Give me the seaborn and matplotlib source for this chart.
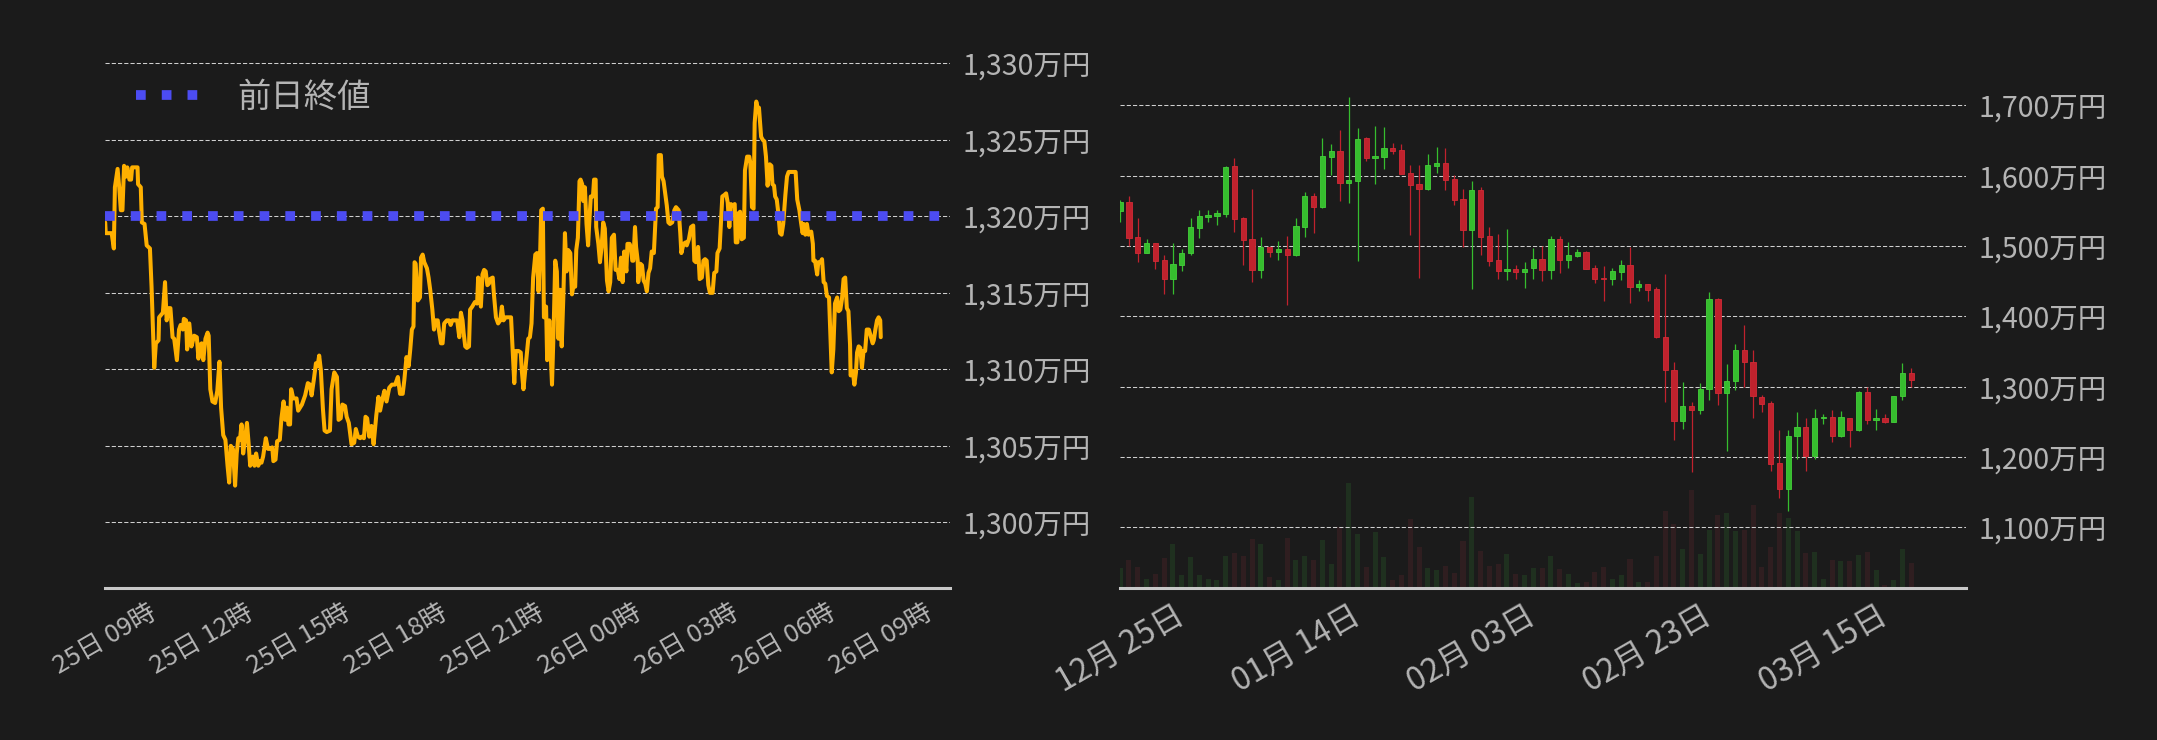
import numpy as np
import pandas as pd
import matplotlib
matplotlib.use('Agg')
import matplotlib.pyplot as plt
import seaborn as sns

# ---- 左: 25日 09時からの経過分(分) と価格(万円) ----
minutes = [
    0, 1, 12, 16, 18, 23, 26, 29, 32, 35, 39, 41, 45, 48, 50, 60, 61, 66, 68, 73,
    77, 83, 86, 91, 94, 99, 100, 107, 111, 114, 118, 121, 125, 128, 133, 137, 140, 144, 146, 150,
    152, 156, 160, 165, 170, 173, 176, 179, 182, 186, 190, 192, 195, 199, 204, 208, 212, 215, 219, 223,
    227, 230, 233, 237, 241, 244, 247, 250, 253, 256, 260, 263, 266, 269, 274, 277, 280, 284, 287, 290,
    293, 298, 302, 306, 310, 312, 316, 319, 324, 327, 331, 334, 337, 340, 343, 345, 349, 355, 358,
    365, 371, 376, 380, 383, 387, 391, 394, 397, 400, 404, 407, 411, 417, 420, 425, 430, 433, 437, 440,
    445, 448, 452, 457, 462, 465, 469, 473, 476, 480, 483, 486, 490, 494, 498, 503, 507, 510, 514, 518,
    522, 527, 532, 538, 543, 547, 552, 555, 559, 563, 566, 569, 572, 574, 576, 580, 584, 586, 589, 592,
    597, 600, 603, 607, 610, 613, 617, 619, 623, 626, 629, 634, 638, 641, 644, 649, 653, 657, 660, 663,
    665, 668, 671, 675, 677, 681, 686, 690, 692, 697, 700, 703, 706, 709, 712,
    714, 719, 721, 725, 729, 733, 736, 739, 743, 748, 753, 756, 759, 762, 767, 771, 773, 776, 779, 782,
    785, 788, 791, 794, 798, 801, 804, 807, 809, 812, 814, 818, 820, 824, 829, 832, 835, 838, 841, 844,
    847, 850, 853, 856, 859, 863, 866, 869, 872, 874, 877, 880, 882, 885, 887, 890, 893, 896, 898, 901,
    905, 907, 910, 911, 915, 918, 921, 924, 927, 931, 934, 937, 940, 944, 947, 951, 954, 957, 960, 963,
    967, 969, 973, 975, 978, 980, 983, 985, 988, 989, 993, 996, 999, 1002, 1005, 1008, 1011, 1014, 1018, 1022,
    1025, 1027, 1031, 1033, 1036, 1039, 1042, 1045, 1048, 1052, 1056, 1059, 1064, 1067, 1069, 1073, 1077,
    1079, 1083, 1087, 1091, 1093, 1096, 1100, 1103, 1107, 1110, 1113, 1116, 1119, 1122, 1127, 1130, 1134, 1136, 1140, 1142,
    1145, 1149, 1152, 1155, 1158, 1161, 1164, 1168, 1170, 1173, 1175, 1178, 1181, 1185, 1187, 1191, 1195, 1197, 1200, 1203,
    1205, 1208, 1211, 1213, 1217, 1220, 1223, 1226, 1229, 1233, 1236, 1238, 1241, 1243, 1246, 1249, 1252, 1255, 1258, 1262,
    1265, 1268, 1274, 1281, 1284, 1288, 1291, 1294, 1296, 1299, 1302, 1305, 1310, 1313, 1314, 1317, 1321, 1323, 1327, 1330,
    1333, 1336, 1339, 1343, 1346, 1348, 1351, 1354, 1358, 1361, 1364, 1367, 1370, 1373, 1376, 1379, 1382, 1383, 1387, 1390,
    1393, 1395, 1398, 1401, 1404, 1407, 1410, 1413, 1417, 1421, 1424, 1426, 1429, 1432, 1435, 1438, 1439,
]
price = [
    1319.6, 1318.9, 1318.9, 1317.9, 1321.9, 1323.1, 1321.9, 1320.4, 1320.4, 1323.3, 1322.6, 1323.2, 1322.4, 1322.4, 1323.2, 1323.2, 1322.1, 1321.9, 1319.6, 1319.5,
    1318.1, 1317.9, 1315.4, 1310.1, 1311.7, 1311.9, 1313.4, 1313.7, 1315.7, 1313.2, 1314.0, 1314.0, 1312.1, 1312.0, 1310.6, 1312.6, 1312.9, 1312.6, 1313.3, 1313.2,
    1311.3, 1313.0, 1311.5, 1312.2, 1312.1, 1310.7, 1311.6, 1311.7, 1310.6, 1312.0, 1312.4, 1312.2, 1308.7, 1307.9, 1307.8, 1308.6, 1310.5, 1307.5, 1305.7, 1305.4,
    1303.7, 1302.6, 1305.0, 1304.8, 1302.4, 1304.5, 1305.5, 1305.4, 1306.4, 1304.5, 1305.6, 1306.5, 1305.2, 1303.7, 1304.3, 1303.7, 1304.5, 1303.7, 1304.0, 1303.9,
    1304.3, 1305.5, 1304.8, 1304.8, 1304.9, 1304.0, 1304.1, 1305.3, 1305.4, 1306.8, 1307.9, 1306.7, 1307.5, 1306.4, 1306.4, 1308.7, 1308.1, 1308.1, 1307.3,
    1307.7, 1308.3, 1309.1, 1309.0, 1308.3, 1309.3, 1310.4, 1310.2, 1310.9, 1310.0, 1307.4, 1306.0, 1305.9, 1306.0, 1308.7, 1309.8, 1309.5, 1306.7, 1306.8, 1307.7,
    1307.6, 1306.9, 1306.5, 1305.1, 1305.2, 1306.1, 1305.6, 1305.5, 1305.6, 1305.5, 1306.9, 1306.8, 1305.6, 1306.3, 1305.1, 1307.0, 1308.2, 1307.3, 1308.0, 1308.6,
    1307.9, 1308.8, 1309.0, 1309.0, 1309.5, 1308.4, 1308.4, 1309.3, 1310.8, 1310.2, 1311.3, 1312.6, 1312.8, 1317.0, 1316.9, 1314.5, 1314.7, 1317.3, 1317.5, 1317.0,
    1316.6, 1316.0, 1315.2, 1313.9, 1312.6, 1313.2, 1313.2, 1312.6, 1311.7, 1311.7, 1313.0, 1313.2, 1313.2, 1312.9, 1313.2, 1313.2, 1313.2, 1312.1, 1313.7, 1313.2,
    1312.4, 1311.5, 1311.4, 1311.5, 1313.9, 1314.1, 1314.4, 1314.3, 1316.0, 1314.1, 1316.2, 1316.5, 1316.4, 1315.5, 1315.6,
    1315.9, 1316.0, 1315.0, 1313.4, 1313.0, 1313.2, 1314.1, 1313.2, 1313.4, 1313.4, 1313.4, 1311.3, 1309.1, 1311.2, 1311.2, 1311.1, 1309.9, 1308.7, 1309.8, 1310.9,
    1312.0, 1312.1, 1313.0, 1316.0, 1317.5, 1317.6, 1315.1, 1317.6, 1320.4, 1320.5, 1313.4, 1314.1, 1310.6, 1313.2, 1309.0, 1312.6, 1317.1, 1316.4, 1312.0, 1315.2,
    1311.5, 1314.7, 1318.9, 1316.4, 1317.8, 1317.6, 1314.9, 1315.5, 1315.4, 1317.8, 1318.6, 1322.3, 1322.4, 1322.1, 1321.0, 1321.9, 1319.5, 1318.1, 1319.5, 1321.3,
    1321.3, 1322.4, 1322.4, 1319.3, 1318.2, 1317.0, 1318.0, 1319.6, 1319.2, 1315.8, 1315.1, 1315.7, 1318.6, 1318.8, 1316.5, 1316.5, 1315.9, 1317.3, 1315.7, 1317.7,
    1316.4, 1318.2, 1318.2, 1318.0, 1317.1, 1317.1, 1319.3, 1318.0, 1317.1, 1315.7, 1316.9, 1316.8, 1315.8, 1315.6, 1315.1, 1316.3, 1316.6, 1317.7, 1317.6, 1320.5,
    1320.6, 1324.0, 1324.0, 1322.6, 1322.3, 1321.5, 1320.7, 1319.6, 1319.5, 1319.6, 1320.4, 1320.6, 1320.4, 1318.9, 1317.6, 1318.2, 1318.3,
    1318.1, 1318.5, 1319.3, 1319.4, 1317.1, 1317.0, 1318.0, 1315.9, 1316.0, 1317.1, 1317.2, 1317.1, 1315.5, 1315.0, 1315.0, 1316.3, 1316.4, 1317.6, 1317.9, 1319.3,
    1321.3, 1321.4, 1321.5, 1320.9, 1319.3, 1320.8, 1320.7, 1320.8, 1318.3, 1318.3, 1320.2, 1320.3, 1318.5, 1318.6, 1323.0, 1323.9, 1323.9, 1323.5, 1320.6, 1320.5,
    1326.1, 1327.5, 1327.0, 1327.1, 1325.2, 1325.0, 1324.9, 1323.9, 1322.0, 1323.4, 1323.3, 1322.1, 1322.0, 1321.3, 1321.1, 1320.2, 1318.9, 1318.8, 1319.5, 1321.4,
    1322.6, 1322.9, 1322.9, 1322.9, 1321.1, 1320.4, 1319.6, 1318.9, 1319.5, 1318.8, 1319.5, 1318.8, 1319.0, 1318.2, 1317.1, 1317.1, 1316.2, 1317.0, 1317.0, 1317.2,
    1315.7, 1315.6, 1314.8, 1314.7, 1311.7, 1309.8, 1311.3, 1314.3, 1314.7, 1313.8, 1313.9, 1314.6, 1315.9, 1316.0, 1314.0, 1313.8, 1311.6, 1309.6, 1309.9, 1309.0,
    1309.8, 1311.1, 1311.5, 1311.4, 1310.1, 1311.2, 1311.2, 1312.6, 1312.6, 1312.1, 1311.7, 1311.9, 1312.6, 1313.2, 1313.4, 1313.2, 1312.1,
]
prev_close = 1320
left_yticks = [1300, 1305, 1310, 1315, 1320, 1325, 1330]
left_xlabels = ['25日 09時', '25日 12時', '25日 15時', '25日 18時', '25日 21時',
                '26日 00時', '26日 03時', '26日 06時', '26日 09時']

# ---- 右: 日足 (12/25 - 3/25) ----
opens = [1549.9, 1561.8, 1512.3, 1490.0, 1504.7, 1479.6, 1452.9, 1472.9, 1490.0, 1525.6,
         1541.3, 1542.7, 1545.6, 1613.5, 1539.4, 1509.5, 1465.8, 1499.0, 1491.4, 1495.2,
         1487.2, 1527.1, 1570.8, 1555.6, 1626.8, 1634.9, 1589.8, 1592.6, 1653.4, 1625.4,
         1626.8, 1639.2, 1636.3, 1603.6, 1587.9, 1581.2, 1614.0, 1617.8, 1595.0, 1566.5,
         1522.8, 1579.3, 1513.8, 1479.6, 1464.4, 1467.7, 1462.9, 1468.6, 1481.9, 1465.8,
         1509.5, 1480.0, 1485.7, 1491.0, 1468.2, 1453.9, 1452.9, 1462.9, 1472.4, 1441.5,
         1445.3, 1438.2, 1371.2, 1324.2, 1250.6, 1272.9, 1266.2, 1296.2, 1424.0, 1290.5,
         1307.6, 1352.7, 1335.6, 1285.7, 1277.2, 1191.6, 1155.1, 1229.2, 1242.9, 1202.1,
         1255.0, 1257.2, 1229.2, 1255.8, 1237.7, 1292.8, 1252.0, 1255.8, 1250.1, 1286.2,
         1319.9]
highs = [1565.1, 1570.8, 1539.4, 1509.5, 1504.7, 1486.7, 1503.8, 1495.2, 1539.4, 1550.8,
         1550.8, 1550.8, 1613.5, 1624.5, 1541.3, 1580.8, 1512.3, 1499.0, 1506.6, 1513.8,
         1539.4, 1576.5, 1575.0, 1653.4, 1644.9, 1664.8, 1712.4, 1667.7, 1655.3, 1670.5,
         1669.1, 1646.3, 1644.9, 1615.0, 1615.0, 1630.6, 1640.6, 1639.2, 1600.7, 1580.8,
         1592.2, 1583.6, 1526.6, 1516.6, 1523.7, 1472.4, 1476.7, 1496.7, 1499.5, 1513.8,
         1513.8, 1505.2, 1495.2, 1492.4, 1472.4, 1471.0, 1468.2, 1479.6, 1498.1, 1451.0,
         1445.3, 1441.5, 1459.6, 1335.6, 1307.1, 1278.6, 1305.2, 1434.0, 1425.4, 1332.8,
         1361.3, 1388.3, 1352.7, 1288.6, 1280.0, 1238.7, 1238.7, 1264.3, 1255.5, 1268.6,
         1261.5, 1267.2, 1265.8, 1255.8, 1294.3, 1300.0, 1268.6, 1261.5, 1287.1, 1334.2,
         1327.0]
lows = [1534.2, 1499.5, 1477.2, 1490.0, 1466.7, 1431.1, 1431.1, 1463.9, 1487.2, 1511.4,
        1534.2, 1529.9, 1541.3, 1519.5, 1472.4, 1448.2, 1453.9, 1483.8, 1479.6, 1415.4,
        1485.3, 1512.3, 1518.5, 1554.1, 1600.7, 1563.6, 1561.3, 1478.1, 1621.1, 1588.4,
        1609.7, 1631.1, 1602.6, 1515.2, 1454.4, 1579.3, 1604.0, 1579.8, 1557.9, 1498.1,
        1438.2, 1486.7, 1471.0, 1452.9, 1451.0, 1452.9, 1440.1, 1452.9, 1450.1, 1452.9,
        1461.5, 1468.6, 1483.8, 1467.2, 1447.2, 1421.6, 1444.4, 1451.5, 1418.7, 1435.8,
        1421.6, 1368.9, 1277.6, 1223.5, 1239.2, 1179.3, 1260.5, 1280.5, 1273.4, 1207.8,
        1294.8, 1299.5, 1254.8, 1263.4, 1180.7, 1142.2, 1123.7, 1197.8, 1180.7, 1197.8,
        1246.3, 1220.6, 1227.8, 1213.5, 1236.3, 1246.3, 1237.7, 1248.7, 1250.1, 1281.4,
        1300.0]
closes = [1561.8, 1511.4, 1490.0, 1504.7, 1478.6, 1452.9, 1473.9, 1490.5, 1526.6, 1542.3,
          1543.7, 1546.5, 1612.1, 1538.5, 1508.5, 1465.8, 1499.0, 1491.4, 1495.2, 1487.2,
          1528.0, 1570.8, 1555.6, 1627.8, 1634.9, 1589.8, 1593.6, 1652.0, 1625.4, 1627.8,
          1639.2, 1635.4, 1602.6, 1586.9, 1581.2, 1615.0, 1617.8, 1594.1, 1565.6, 1522.8,
          1579.3, 1512.8, 1478.6, 1464.4, 1467.7, 1462.9, 1467.7, 1481.9, 1465.8, 1509.5,
          1480.0, 1486.7, 1491.0, 1467.2, 1452.9, 1452.9, 1463.9, 1472.4, 1441.5, 1445.3,
          1437.3, 1370.3, 1323.2, 1250.6, 1272.9, 1266.2, 1297.1, 1424.0, 1290.5, 1308.5,
          1352.7, 1334.6, 1286.2, 1274.8, 1190.7, 1155.1, 1230.1, 1242.9, 1202.1, 1255.5,
          1257.2, 1229.2, 1257.2, 1237.7, 1292.8, 1252.0, 1255.8, 1250.1, 1287.1, 1319.9,
          1309.9]
volume = [62, 86, 65, 29, 44, 92, 134, 41, 95, 41, 29, 26, 98, 107, 98, 149, 134, 35, 26, 152,
          86, 98, 86, 146, 74, 185, 317, 164, 65, 170, 95, 26, 41, 209, 125, 62, 56, 68, 47, 143,
          275, 113, 68, 74, 104, 44, 41, 62, 62, 98, 59, 44, 17, 20, 50, 65, 29, 41, 89, 20,
          20, 98, 233, 194, 119, 296, 104, 176, 221, 227, 173, 176, 251, 65, 125, 227, 212, 173, 107, 110,
          29, 86, 83, 83, 101, 110, 56, 11, 26, 119, 77]
right_yticks = [1100, 1200, 1300, 1400, 1500, 1600, 1700]
right_xticks = ['2024-12-25', '2025-01-14', '2025-02-03', '2025-02-23', '2025-03-15']
right_xlabels = ['12月 25日', '01月 14日', '02月 03日', '02月 23日', '03月 15日']

BG = '#1b1b1b'
TXT = '#b4b4b4'
GRID = '#cfcfcf'
UP, UP_EDGE = '#36bd2e', '#44d03a'
DOWN, DOWN_EDGE = '#c0222d', '#d22b36'
UP_VOL, DOWN_VOL = '#1f301f', '#2f1e20'

sns.set_theme(style='dark', rc={'figure.facecolor': BG, 'axes.facecolor': BG,
                                'savefig.facecolor': BG, 'axes.grid': False})
plt.rcParams['font.family'] = ['Noto Sans CJK JP', 'DejaVu Sans']

W, H = 2157, 740
fig = plt.figure(figsize=(W / 100, H / 100), dpi=100)


def add_px_axes(x0, x1, y0, y1):
    return fig.add_axes([x0 / W, 1 - y1 / H, (x1 - x0) / W, (y1 - y0) / H])


def style_axes(ax, yticks, fmt, xlabelsize):
    for s in ['top', 'left', 'right']:
        ax.spines[s].set_visible(False)
    ax.spines['bottom'].set_color('#c8c8c8')
    ax.spines['bottom'].set_linewidth(2.2)
    ax.yaxis.tick_right()
    ax.set_yticks(yticks)
    ax.set_yticklabels([fmt.format(v) for v in yticks])
    ax.yaxis.grid(True, color=GRID, lw=0.75, ls=(0, (4, 2)))
    ax.tick_params(axis='y', length=0, pad=9, labelsize=20.5, labelcolor=TXT)
    ax.tick_params(axis='x', length=4, width=0.8, color='#8a8a8a', pad=4,
                   labelsize=xlabelsize, labelcolor=TXT)
    ax.set_xlabel('')
    ax.set_ylabel('')


# ---- 左チャート ----
ax1 = add_px_axes(105.2, 950.3, 50, 588.3)
base = pd.Timestamp('2025-03-25 09:00')
line_df = pd.DataFrame({'time': base + pd.to_timedelta(minutes, unit='min'), 'price': price})
sns.lineplot(data=line_df, x='time', y='price', ax=ax1, color='#ffb000', lw=2.9,
             estimator=None, zorder=3)
prev = ax1.axhline(prev_close, color='#4c4cf2', lw=7, ls=(0, (1, 1.65)), zorder=4)
ax1.set_ylim(1295.69, 1330.87)
ax1.set_xlim(base, base + pd.Timedelta(minutes=1568))
ax1.set_xticks(pd.date_range(base, periods=len(left_xlabels), freq='3h'))
ax1.set_xticklabels(left_xlabels, rotation=30, ha='center')
style_axes(ax1, left_yticks, '{:,.0f}万円', 18.5)
ax1.legend(handles=[prev], labels=['前日終値'], loc='center left',
           bbox_to_anchor=((136 - 105.2) / 845.1, (588.3 - 97.5) / 538.3),
           frameon=False, fontsize=24, handlelength=1.85, handletextpad=1.2,
           borderpad=0, borderaxespad=0, labelcolor=TXT)

# ---- 右チャート ----
ax2 = add_px_axes(1120.2, 1966.3, 50, 588.3)
axv = ax2.twinx()
dates = pd.date_range('2024-12-25', periods=len(opens), freq='D')
o, h, l, c = map(np.array, (opens, highs, lows, closes))
up = c >= o
vol_colors = [UP_VOL if u else DOWN_VOL for u in up]
axv.bar(dates, volume, width=0.57, color=vol_colors, edgecolor='none', lw=0, zorder=1)
axv.set_ylim(0, 1615)
axv.set_yticks([])
for s in axv.spines.values():
    s.set_visible(False)

ax2.set_zorder(axv.get_zorder() + 1)
ax2.patch.set_visible(False)
body_colors = [UP if u else DOWN for u in up]
edge_colors = [UP_EDGE if u else DOWN_EDGE for u in up]
ax2.vlines(dates, l, h, colors=body_colors, lw=0.9, zorder=2)
ax2.bar(dates, np.abs(c - o), bottom=np.minimum(o, c), width=0.6,
        color=body_colors, edgecolor=edge_colors, lw=0.6, zorder=3)
ax2.set_ylim(1013.3, 1778.6)
ax2.set_xlim(dates[0], dates[0] + pd.Timedelta(days=96.26))
ax2.set_xticks(pd.to_datetime(right_xticks))
ax2.set_xticklabels(right_xlabels, rotation=30, ha='center')
style_axes(ax2, right_yticks, '{:,.0f}万円', 23)

fig.savefig('out.png', dpi=100, facecolor=BG)
